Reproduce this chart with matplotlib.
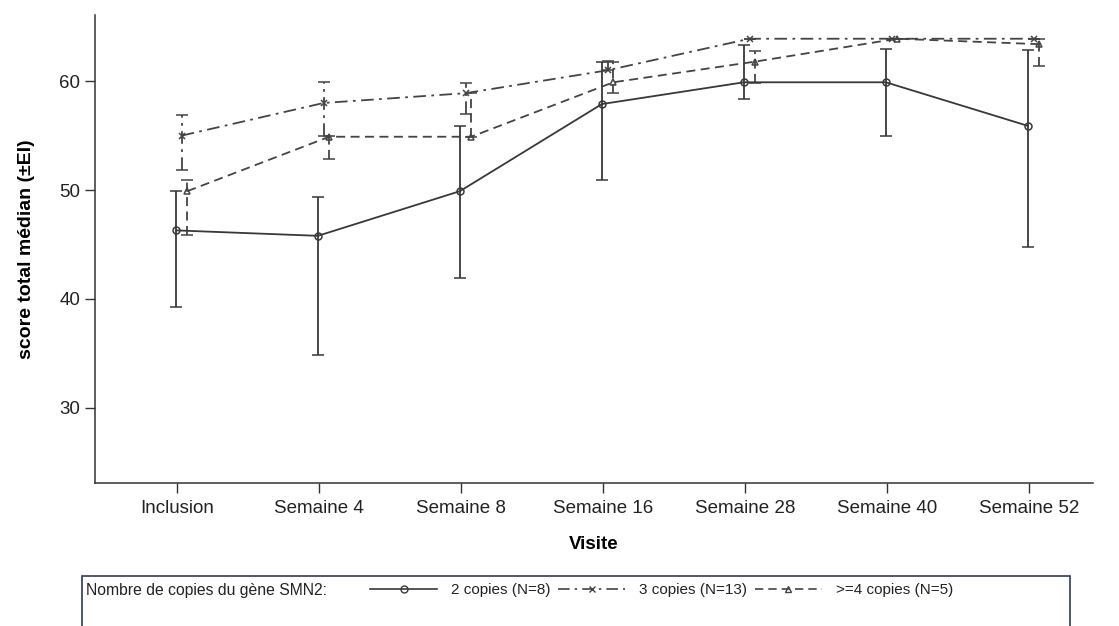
import matplotlib
matplotlib.use("Agg")
import matplotlib.pyplot as plt
from matplotlib.patches import Rectangle
from matplotlib.lines import Line2D
import numpy as np

plt.rcParams['font.family'] = ['Liberation Sans', 'DejaVu Sans']

categories = ["Inclusion", "Semaine 4", "Semaine 8", "Semaine 16",
              "Semaine 28", "Semaine 40", "Semaine 52"]

c2_med = [46.3, 45.8, 49.9, 57.9, 59.9, 59.9, 55.9]
c2_lo = [39.3, 34.9, 41.9, 50.9, 58.4, 55.0, 44.8]
c2_hi = [49.9, 49.4, 55.9, 61.8, 63.3, 63.0, 62.9]

c3_med = [55.0, 58.0, 58.9, 61.0, 63.9, 63.9, 63.9]
c3_lo = [51.8, 55.0, 57.0, 61.0, 63.9, 63.9, 63.9]
c3_hi = [56.9, 59.9, 59.8, 61.9, 63.9, 63.9, 63.9]

c4_med = [49.9, 54.9, 54.9, 59.9, 61.8, 63.9, 63.4]
c4_lo = [45.9, 52.9, 54.9, 58.9, 59.8, 63.9, 61.4]
c4_hi = [50.9, 55.0, 58.9, 61.8, 62.8, 63.9, 63.9]

labels = ["2 copies (N=8)", "3 copies (N=13)", ">=4 copies (N=5)"]
legend_title = "Nombre de copies du gène SMN2:"

fig = plt.figure(figsize=(11.19, 6.26), dpi=100)
ax = fig.add_axes([0.0849, 0.2284, 0.892, 0.748])

x = np.arange(len(categories))
dark = "#383838"
mid = "#444444"

series = [
    (c2_med, c2_lo, c2_hi, -0.01, '-', 'o', labels[0], dark),
    (c3_med, c3_lo, c3_hi, 0.03, (0, (7, 3, 1.5, 3)), 'x', labels[1], mid),
    (c4_med, c4_lo, c4_hi, 0.07, (0, (5, 3)), '^', labels[2], mid),
]

handles = []
for med, lo, hi, off, ls, mk, lab, col in series:
    med = np.array(med); lo = np.array(lo); hi = np.array(hi)
    eb = ax.errorbar(x + off, med, yerr=[med - lo, hi - med],
                     color=col, linestyle=ls, linewidth=1.3,
                     marker=mk, markersize=5, markerfacecolor='none',
                     markeredgecolor=col, markeredgewidth=1.1,
                     capsize=4, capthick=1.2, elinewidth=1.3, ecolor=col)
    for coll in eb[2]:
        coll.set_linestyle(ls)
    handles.append(Line2D([], [], color=col, linestyle=ls, linewidth=1.2,
                          marker=mk, markersize=5, markerfacecolor='none',
                          markeredgecolor=col, label=lab))

ax.set_xlim(-0.58, 6.45)
ax.set_ylim(23.1, 66.1)
ax.set_xticks(x)
ax.set_xticklabels(categories)
ax.set_yticks([30, 40, 50, 60])
ax.tick_params(axis='both', labelsize=13.5, colors="#333333", length=7, width=1,
               labelcolor="#222222")
ax.tick_params(axis='x', pad=5)
for s in ['top', 'right']:
    ax.spines[s].set_visible(False)
for s in ['left', 'bottom']:
    ax.spines[s].set_color("#333333")
    ax.spines[s].set_linewidth(1.1)

ax.set_ylabel("score total médian (±EI)", fontsize=14, fontweight='bold')
ax.yaxis.set_label_coords(-0.060, 0.5)
ax.set_xlabel("Visite", fontsize=13.5, fontweight='bold', labelpad=14)

# legend frame
fig.add_artist(Rectangle((82 / 1119, -0.05), (1070 - 82) / 1119, 0.05 + (626 - 576) / 626,
                         transform=fig.transFigure, fill=False,
                         edgecolor="#2e3b55", linewidth=1.2))
fig.text(86 / 1119, 1 - 590 / 626, legend_title, fontsize=11.3, va='center',
         ha='left', color="#222222")
fig.legend(handles=handles, loc='center left',
           bbox_to_anchor=(370 / 1119, 1 - 590 / 626), ncol=3, frameon=False,
           fontsize=11, handlelength=4.4, handletextpad=0.9,
           columnspacing=0.5, borderpad=0, borderaxespad=0, numpoints=1,
           labelcolor="#222222")

fig.savefig("out.png", dpi=100)
